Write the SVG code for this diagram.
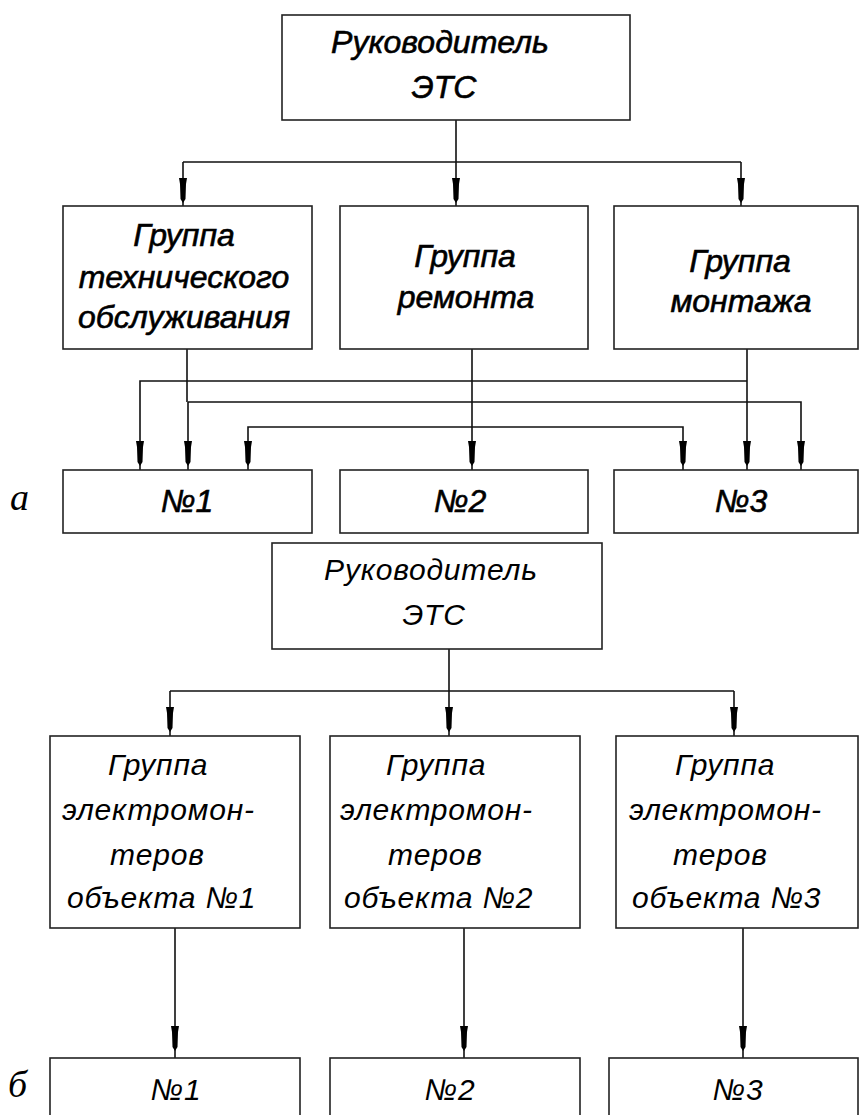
<svg xmlns="http://www.w3.org/2000/svg" width="860" height="1115" viewBox="0 0 860 1115">
<style>
.box{fill:#fff;stroke:#222;stroke-width:1.6}
.ln{fill:none;stroke:#111;stroke-width:1.6}
.ah{fill:#000}
.ta{font-family:"Liberation Sans",Arial,sans-serif;font-style:italic;font-size:32px;fill:#000;stroke:#000;stroke-width:0.6;text-anchor:middle}
.tb{font-family:"Liberation Sans",Arial,sans-serif;font-style:italic;font-size:30px;fill:#000;letter-spacing:0.8px}
.tbm{text-anchor:middle}
.lab{font-family:"Liberation Serif","Times New Roman",serif;font-style:italic;font-size:38px;fill:#000}
</style>
<defs>
<path id="ah" d="M-4,0 L4,0 L3,6 L2.5,21 L0,25 L-2.5,21 L-3,6 Z"/>
</defs>
<rect width="860" height="1115" fill="#fff"/>
<g id="connectors">
<path class="ln" d="M456,120 V206 M183,162 H741 M183,162 V206 M741,162 V206"/>
<path class="ln" d="M187,349 V402 M188,402 V470 M188,402 H801 V470"/>
<path class="ln" d="M747,349 V470 M747,381 H140 V470"/>
<path class="ln" d="M472,349 V470 M248,470 V427 H683 V470"/>
<path class="ln" d="M449,649 V737 M170,691 H734 M170,691 V737 M734,691 V737"/>
<path class="ln" d="M175,928 V1058 M464,928 V1058 M743,928 V1058"/>
<g class="ah">
<use href="#ah" x="183" y="178"/>
<use href="#ah" x="456" y="178"/>
<use href="#ah" x="741" y="178"/>
<use href="#ah" x="140" y="441"/>
<use href="#ah" x="188" y="441"/>
<use href="#ah" x="248" y="441"/>
<use href="#ah" x="472" y="441"/>
<use href="#ah" x="683" y="441"/>
<use href="#ah" x="747" y="441"/>
<use href="#ah" x="801" y="441"/>
<use href="#ah" x="170" y="707"/>
<use href="#ah" x="449" y="707"/>
<use href="#ah" x="734" y="707"/>
<use href="#ah" x="175" y="1026"/>
<use href="#ah" x="464" y="1026"/>
<use href="#ah" x="743" y="1026"/>
</g>
</g>
<g id="a-head">
<rect class="box" x="282" y="15" width="348" height="105"/>
<text class="ta" x="440" y="53">Руководитель</text>
<text class="ta" x="444" y="98">ЭТС</text>
</g>
<g id="a-group-to">
<rect class="box" x="63" y="206" width="249" height="143"/>
<text class="ta" x="184" y="246">Группа</text>
<text class="ta" x="184" y="288">технического</text>
<text class="ta" x="184" y="328">обслуживания</text>
</g>
<g id="a-group-rem">
<rect class="box" x="340" y="206" width="248" height="143"/>
<text class="ta" x="465" y="267">Группа</text>
<text class="ta" x="466" y="308">ремонта</text>
</g>
<g id="a-group-mon">
<rect class="box" x="614" y="206" width="244" height="143"/>
<text class="ta" x="740" y="272">Группа</text>
<text class="ta" x="741" y="312">монтажа</text>
</g>
<g id="a-obj1">
<rect class="box" x="63" y="470" width="249" height="63"/>
<text class="ta" x="187" y="512">№1</text>
</g>
<g id="a-obj2">
<rect class="box" x="340" y="470" width="248" height="63"/>
<text class="ta" x="460" y="512">№2</text>
</g>
<g id="a-obj3">
<rect class="box" x="614" y="470" width="244" height="63"/>
<text class="ta" x="741" y="512">№3</text>
</g>
<text class="lab" x="10" y="510">а</text>
<g id="b-head">
<rect class="box" x="272" y="543" width="330" height="106"/>
<text class="tb tbm" x="431" y="580">Руководитель</text>
<text class="tb tbm" x="434" y="625">ЭТС</text>
</g>
<g id="b-group1">
<rect class="box" x="50" y="736" width="250" height="192"/>
<text class="tb" x="108" y="775">Группа</text>
<text class="tb" x="62" y="820">электромон-</text>
<text class="tb" x="110" y="865">теров</text>
<text class="tb" x="67" y="908">объекта №1</text>
</g>
<g id="b-group2">
<rect class="box" x="330" y="736" width="250" height="192"/>
<text class="tb" x="386" y="775">Группа</text>
<text class="tb" x="340" y="820">электромон-</text>
<text class="tb" x="388" y="865">теров</text>
<text class="tb" x="344" y="908">объекта №2</text>
</g>
<g id="b-group3">
<rect class="box" x="616" y="736" width="242" height="192"/>
<text class="tb" x="675" y="775">Группа</text>
<text class="tb" x="629" y="820">электромон-</text>
<text class="tb" x="673" y="865">теров</text>
<text class="tb" x="632" y="908">объекта №3</text>
</g>
<g id="b-obj1">
<rect class="box" x="50" y="1058" width="250" height="70"/>
<text class="tb tbm" x="176" y="1100">№1</text>
</g>
<g id="b-obj2">
<rect class="box" x="330" y="1058" width="250" height="70"/>
<text class="tb tbm" x="450" y="1100">№2</text>
</g>
<g id="b-obj3">
<rect class="box" x="609" y="1058" width="249" height="70"/>
<text class="tb tbm" x="738" y="1100">№3</text>
</g>
<text class="lab" x="8" y="1097">б</text>
</svg>
